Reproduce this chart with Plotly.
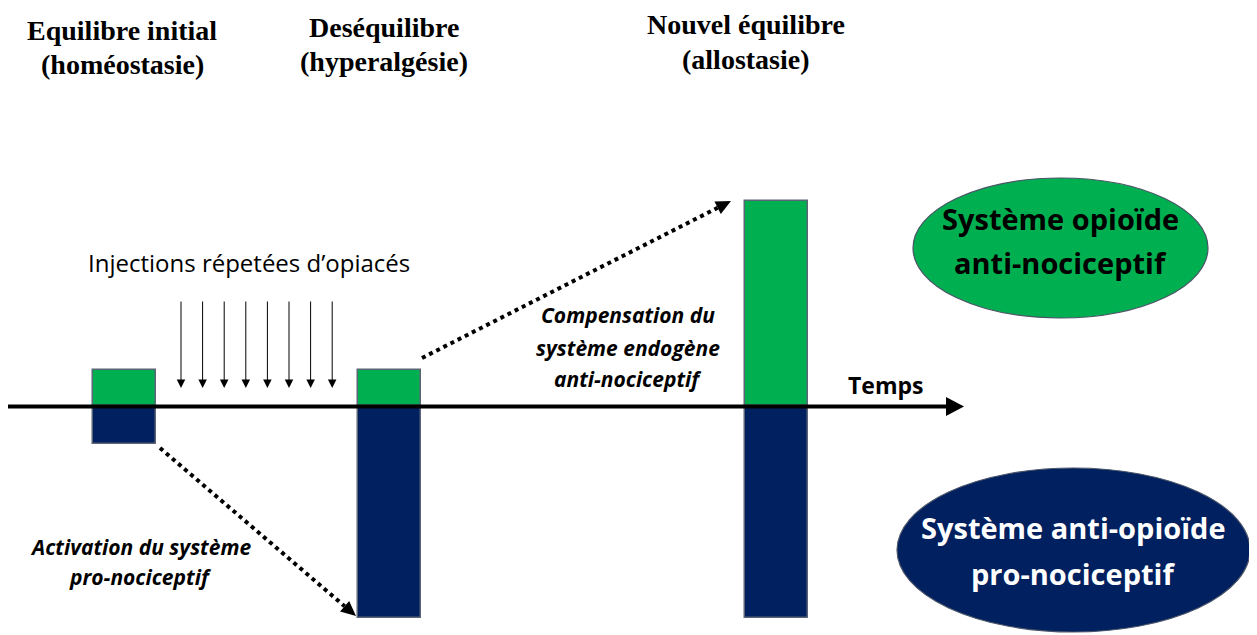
import math
import plotly.graph_objects as go

# ---- data ----
stages = ["Equilibre initial", "Deséquilibre", "Nouvel équilibre"]
anti_nociceptif = [10, 10, 57]      # green bars (up)
pro_nociceptif = [10.5, 59, 59]     # navy bars (down)
injections = 8

GREEN = "#00B050"
NAVY = "#002060"
W, H = 1257, 635
OFF = 8                # page body margin
BASE_PY = 406          # screen pixel row of the time axis
SCALE = 3.6            # pixels per unit

def Y(py):
    return (BASE_PY - py) / SCALE

bar_x = [124.5, 389, 776]

fig = go.Figure()
fig.add_trace(go.Bar(x=bar_x, y=anti_nociceptif, width=63, marker=dict(color=GREEN, line=dict(color="#5B6577", width=1.5)),
                     hoverinfo="skip", showlegend=False, name="anti"))
fig.add_trace(go.Bar(x=bar_x, y=[-v for v in pro_nociceptif], width=63, marker=dict(color=NAVY, line=dict(color="#5B6577", width=1.5)),
                     hoverinfo="skip", showlegend=False, name="pro"))

shapes = []
# time axis
shapes.append(dict(type="line", x0=8, x1=950, y0=Y(406.5), y1=Y(406.5), line=dict(color="black", width=4), layer="above"))
shapes.append(dict(type="path", path=f"M 946 {Y(397)} L 964 {Y(406.5)} L 946 {Y(416)} Z", fillcolor="black", line=dict(width=0), layer="above"))

def dotted_arrow(x0, y0, x1, y1, head=15, hw=7):
    dx, dy = x1 - x0, y1 - y0
    L = math.hypot(dx, dy)
    ux, uy = dx / L, dy / L
    bx, by = x1 - ux * head, y1 - uy * head
    px, py = -uy, ux
    shapes.append(dict(type="line", x0=x0, y0=Y(y0), x1=bx, y1=Y(by), line=dict(color="black", width=4, dash="dot"), layer="above"))
    shapes.append(dict(type="path",
                       path=f"M {x1} {Y(y1)} L {bx + px*hw} {Y(by + py*hw)} L {bx - px*hw} {Y(by - py*hw)} Z",
                       fillcolor="black", line=dict(width=0), layer="above"))

dotted_arrow(422, 358, 731, 201)
dotted_arrow(160, 448, 356, 616)

# ellipses
shapes.append(dict(type="circle", x0=913, x1=1208, y0=Y(178), y1=Y(318), fillcolor=GREEN, line=dict(color="#4A5568", width=1.2), layer="below"))
shapes.append(dict(type="circle", x0=897, x1=1250, y0=Y(468), y1=Y(632), fillcolor=NAVY, line=dict(color="#4A5568", width=1.2), layer="below"))

annotations = []
# injection arrows
for i in range(injections):
    x = 181 + i * 21.6
    annotations.append(dict(x=x, y=Y(388), ax=0, ay=-88, xref="x", yref="y", showarrow=True, arrowhead=2,
                            arrowsize=1.7, arrowwidth=1, arrowcolor="black", text=""))

serif = "Liberation Serif"
sans = "Open Sans"
def txt(x, py, s, size, family, color="black", bold=False, italic=False):
    if bold:
        s = f"<b>{s}</b>"
    if italic:
        s = f"<i>{s}</i>"
    annotations.append(dict(x=x, y=Y(py), text=s, showarrow=False, xref="x", yref="y",
                            font=dict(size=size, family=family, color=color), xanchor="center", yanchor="middle"))

txt(122, 30, stages[0], 28, serif, bold=True)
txt(122, 64, "(homéostasie)", 28, serif, bold=True)
txt(384, 27, stages[1], 28, serif, bold=True)
txt(384, 61, "(hyperalgésie)", 28, serif, bold=True)
txt(746, 24, stages[2], 28, serif, bold=True)
txt(746, 59, "(allostasie)", 28, serif, bold=True)

txt(249, 262, "Injections répetées d’opiacés", 24, sans)
txt(628, 315, "Compensation du", 21, sans, bold=True, italic=True)
txt(628, 348, "système endogène", 21, sans, bold=True, italic=True)
txt(628, 379, "anti-nociceptif", 21, sans, bold=True, italic=True)
txt(140, 547, "Activation du système", 21, sans, bold=True, italic=True)
txt(140, 577, "pro-nociceptif", 21, sans, bold=True, italic=True)
txt(885, 385, "Temps", 23, sans, bold=True)

txt(1060, 218, "Système opioïde", 29, sans, bold=True)
txt(1060, 262, "anti-nociceptif", 29, sans, bold=True)
txt(1073, 527, "Système anti-opioïde", 29, sans, color="white", bold=True)
txt(1073, 573, "pro-nociceptif", 29, sans, color="white", bold=True)

fig.update_layout(
    width=W - OFF, height=H - OFF, margin=dict(l=0, r=0, t=0, b=0),
    plot_bgcolor="white", paper_bgcolor="white",
    barmode="overlay", bargap=0,
    xaxis=dict(range=[OFF, W], visible=False, fixedrange=True),
    yaxis=dict(range=[Y(H), Y(OFF)], visible=False, fixedrange=True),
    shapes=shapes, annotations=annotations,
)
fig.write_html("out.html")
